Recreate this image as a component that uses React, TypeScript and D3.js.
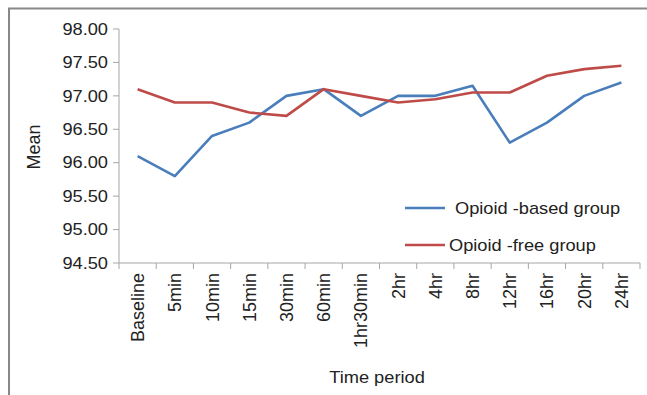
import React, { useEffect, useRef } from 'react';
import * as d3 from 'd3';

const categories = ['Baseline', '5min', '10min', '15min', '30min', '60min', '1hr30min', '2hr', '4hr', '8hr', '12hr', '16hr', '20hr', '24hr'];
const opioidBased = [96.1, 95.8, 96.4, 96.6, 97.0, 97.1, 96.7, 97.0, 97.0, 97.15, 96.3, 96.6, 97.0, 97.2];
const opioidFree = [97.1, 96.9, 96.9, 96.75, 96.7, 97.1, 97.0, 96.9, 96.95, 97.05, 97.05, 97.3, 97.4, 97.45];
const yTicks = [94.5, 95.0, 95.5, 96.0, 96.5, 97.0, 97.5, 98.0];

const BLUE = '#4a7ebb';
const RED = '#be4b48';
const FONT = '"Liberation Sans", Arial, sans-serif';
const SX = 1.14; // horizontal text in the reference is stretched sideways

export default function App() {
  const svgRef = useRef<SVGSVGElement>(null);

  useEffect(() => {
    if (!svgRef.current) return;
    const svg = d3.select(svgRef.current);
    svg.selectAll('*').remove();

    const left = 119, right = 640, top = 29, bottom = 263;

    const x = d3.scaleBand<string>().domain(categories).range([left, right]);
    const y = d3.scaleLinear().domain([94.5, 98]).range([bottom, top]);

    // frame (top and left edges only)
    svg.append('path')
      .attr('d', 'M9,395 V8.5 H647')
      .attr('fill', 'none')
      .attr('stroke', '#888')
      .attr('stroke-width', 2);

    // y axis
    svg.append('line')
      .attr('x1', left).attr('x2', left)
      .attr('y1', top).attr('y2', bottom)
      .attr('stroke', '#a6a6a6');
    yTicks.forEach((t) => {
      svg.append('line')
        .attr('x1', left - 6).attr('x2', left)
        .attr('y1', y(t)).attr('y2', y(t))
        .attr('stroke', '#a6a6a6');
      svg.append('text')
        .attr('transform', `translate(108,${y(t)}) scale(${SX},1)`)
        .attr('text-anchor', 'end')
        .attr('dy', '0.36em')
        .attr('font-family', FONT)
        .attr('font-size', 16)
        .attr('fill', '#222')
        .text(t.toFixed(2));
    });

    // x axis
    svg.append('line')
      .attr('x1', left).attr('x2', right)
      .attr('y1', bottom).attr('y2', bottom)
      .attr('stroke', '#a6a6a6');
    const tickXs = categories.map((c) => x(c)!).concat([right]);
    tickXs.forEach((tx) => {
      svg.append('line')
        .attr('x1', tx).attr('x2', tx)
        .attr('y1', bottom).attr('y2', bottom + 6)
        .attr('stroke', '#a6a6a6');
    });
    categories.forEach((c) => {
      svg.append('text')
        .attr('transform', `translate(${x(c)! + x.bandwidth() / 2},273) rotate(-90)`)
        .attr('text-anchor', 'end')
        .attr('dy', '0.36em')
        .attr('font-family', FONT)
        .attr('font-size', 18)
        .attr('fill', '#222')
        .text(c);
    });

    // axis titles
    svg.append('text')
      .attr('transform', 'translate(34,147) rotate(-90)')
      .attr('text-anchor', 'middle')
      .attr('dy', '0.36em')
      .attr('font-family', FONT)
      .attr('font-size', 18)
      .attr('fill', '#222')
      .text('Mean');
    svg.append('text')
      .attr('transform', `translate(377,383) scale(${SX},1)`)
      .attr('text-anchor', 'middle')
      .attr('font-family', FONT)
      .attr('font-size', 16)
      .attr('fill', '#222')
      .text('Time period');

    // series
    const line = d3.line<number>()
      .x((_, i) => x(categories[i])! + x.bandwidth() / 2)
      .y((d) => y(d));

    [{ data: opioidBased, color: BLUE }, { data: opioidFree, color: RED }].forEach((s) => {
      svg.append('path')
        .datum(s.data)
        .attr('fill', 'none')
        .attr('stroke', s.color)
        .attr('stroke-width', 2.6)
        .attr('stroke-linejoin', 'round')
        .attr('d', line);
    });

    // legend
    const legend = [
      { label: 'Opioid -based group', color: BLUE, y: 208, tx: 455 },
      { label: 'Opioid -free group', color: RED, y: 245, tx: 449 },
    ];
    legend.forEach((l) => {
      svg.append('line')
        .attr('x1', 405).attr('x2', 445)
        .attr('y1', l.y).attr('y2', l.y)
        .attr('stroke', l.color)
        .attr('stroke-width', 2.6);
      svg.append('text')
        .attr('transform', `translate(${l.tx},${l.y}) scale(${SX},1)`)
        .attr('dy', '0.36em')
        .attr('font-family', FONT)
        .attr('font-size', 16)
        .attr('fill', '#222')
        .text(l.label);
    });
  }, []);

  return (
    <div style={{ position: 'absolute', left: 0, top: 0 }}>
      <svg ref={svgRef} width={647} height={395} style={{ display: 'block', background: '#fff' }} />
    </div>
  );
}
